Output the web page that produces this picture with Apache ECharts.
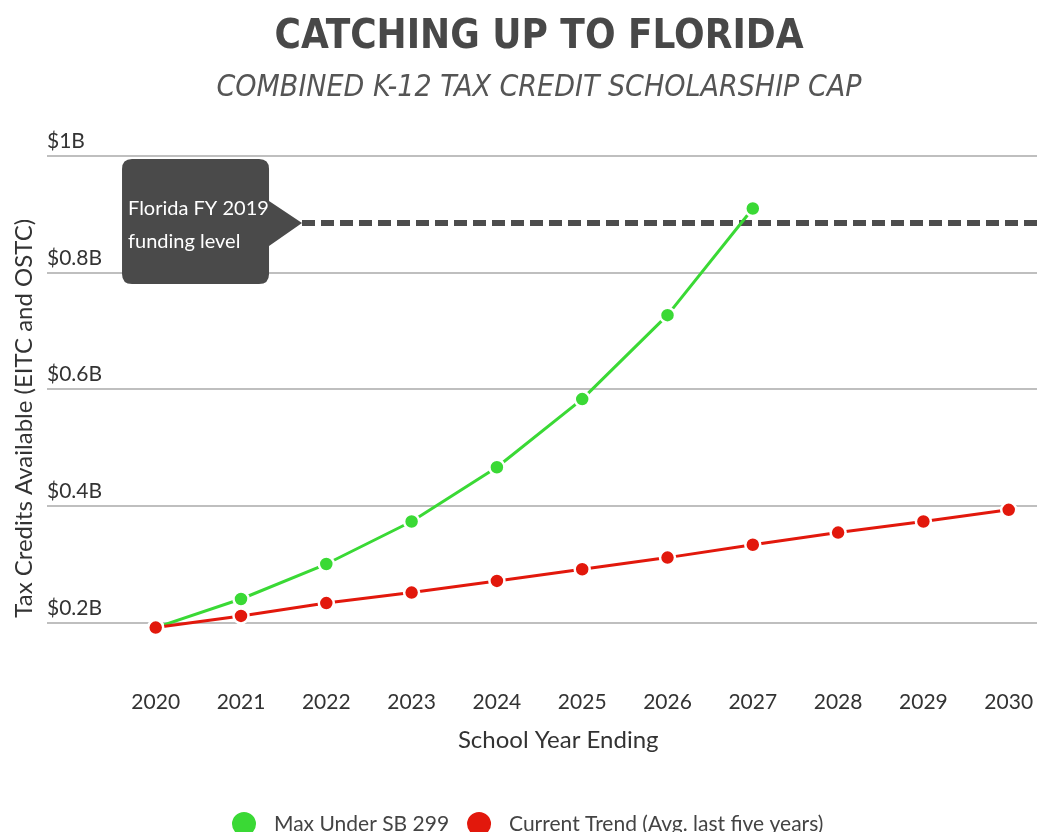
<!DOCTYPE html>
<html>
<head>
<meta charset="utf-8">
<script src="https://cdn.jsdelivr.net/npm/echarts@6/dist/echarts.min.js"></script>
<style>
html,body{margin:0;padding:0;background:#fff;}
#chart{width:1037px;height:832px;}
</style>
</head>
<body>
<div id="chart"></div>
<script>
// ---- data ----
const years = ['2020','2021','2022','2023','2024','2025','2026','2027','2028','2029','2030'];
const maxUnderSB299 = [0.191, 0.240, 0.300, 0.373, 0.466, 0.583, 0.727, 0.910, null, null, null];
const currentTrend = [0.191, 0.211, 0.233, 0.251, 0.271, 0.291, 0.311, 0.333, 0.354, 0.373, 0.393];
const floridaFY2019Level = 0.885;
const floridaLabel = 'Florida FY 2019\nfunding level';
const seriesNames = ['Max Under SB 299', 'Current Trend (Avg. last five years)'];

const GREEN = '#3ad935';
const RED = '#e2180c';
const FONT = 'Lato, "Open Sans", sans-serif';
const NARROW = '"Liberation Sans Narrow", "DejaVu Sans Condensed", sans-serif';

const gridTop = 156, gridBottom = 151.4;

function yLabel(v) {
  const k = Math.round(v * 10);
  if (k % 2 !== 0) return '';
  if (k === 10) return '$1B';
  return '$' + (k / 10).toFixed(1) + 'B';
}

const chart = echarts.init(document.getElementById('chart'), null, {renderer: 'canvas'});
chart.setOption({
  backgroundColor: '#fff',
  animation: false,
  title: {
    text: 'CATCHING UP TO FLORIDA',
    subtext: 'COMBINED K-12 TAX CREDIT SCHOLARSHIP CAP',
    left: 534, top: 13, textAlign: 'center', itemGap: 15,
    textStyle: {fontFamily: NARROW, fontWeight: 'bold', fontSize: 40, color: '#484848'},
    subtextStyle: {fontFamily: NARROW, fontStyle: 'italic', fontWeight: 'normal', fontSize: 30, color: '#555'}
  },
  legend: {
    data: seriesNames,
    left: 225, top: 805,
    icon: 'circle', itemWidth: 26, itemHeight: 26, itemGap: 16,
    textStyle: {fontFamily: FONT, fontSize: 21, color: '#444', padding: [0, 0, 0, 12]}
  },
  grid: [
    {left: 47, right: 0, top: gridTop, bottom: gridBottom},
    {left: 155.7, right: 28.3, top: gridTop, bottom: gridBottom}
  ],
  xAxis: [
    {type: 'value', gridIndex: 0, min: 0, max: 1, show: false},
    {
      type: 'category', gridIndex: 1, data: years, boundaryGap: false,
      axisLine: {show: false}, axisTick: {show: false},
      axisLabel: {fontFamily: FONT, fontSize: 21, color: '#333', margin: 11},
      name: 'School Year Ending', nameLocation: 'middle', nameGap: 48,
      nameTextStyle: {fontFamily: FONT, fontSize: 24, color: '#333', padding: [0, 48, 0, 0]}
    }
  ],
  yAxis: [
    {
      type: 'value', gridIndex: 0, min: 0.1, max: 1.0, interval: 0.1,
      axisLine: {show: false}, axisTick: {show: false},
      axisLabel: {inside: true, formatter: yLabel, fontFamily: FONT, fontSize: 21, color: '#333',
                  verticalAlign: 'bottom', align: 'left', margin: 0, padding: [0, 0, 4, 0]},
      splitLine: {show: true, lineStyle: {color: ['rgba(0,0,0,0)', '#aaaaaa'], width: 1.5}},
      name: 'Tax Credits Available (EITC and OSTC)', nameLocation: 'middle', nameGap: 11,
      nameTextStyle: {fontFamily: FONT, fontSize: 24, color: '#333'}
    },
    {type: 'value', gridIndex: 1, min: 0.1, max: 1.0, show: false}
  ],
  series: [
    {
      name: 'Florida FY 2019 level', type: 'line', xAxisIndex: 0, yAxisIndex: 0,
      data: [[0.2576, floridaFY2019Level], [1, floridaFY2019Level]],
      showSymbol: false, silent: true, z: 1,
      lineStyle: {color: '#4d4d4d', width: 6, type: [13, 6], cap: 'butt'},
      markPoint: {
        silent: true,
        symbol: 'path://M10,0 H137 Q147,0 147,10 V42 L180,64 L147,87 V115 Q147,125 137,125 H10 Q0,125 0,115 V10 Q0,0 10,0 Z',
        symbolSize: [180, 125], symbolKeepAspect: false, symbolOffset: [-90, -1.5],
        itemStyle: {color: '#4a4a4a'},
        label: {show: true, formatter: floridaLabel, position: [6, 66], align: 'left', verticalAlign: 'middle',
                fontFamily: FONT, fontSize: 20, lineHeight: 33, color: '#fff'},
        data: [{coord: [0.2576, floridaFY2019Level]}]
      }
    },
    {
      name: seriesNames[0], type: 'line', xAxisIndex: 1, yAxisIndex: 1, data: maxUnderSB299,
      symbol: 'circle', symbolSize: 15, clip: false, z: 3,
      itemStyle: {color: GREEN, borderColor: '#fff', borderWidth: 2.5},
      lineStyle: {color: GREEN, width: 3}
    },
    {
      name: seriesNames[1], type: 'line', xAxisIndex: 1, yAxisIndex: 1, data: currentTrend,
      symbol: 'circle', symbolSize: 15, clip: false, z: 4,
      itemStyle: {color: RED, borderColor: '#fff', borderWidth: 2.5},
      lineStyle: {color: RED, width: 3}
    }
  ]
});
</script>
</body>
</html>
